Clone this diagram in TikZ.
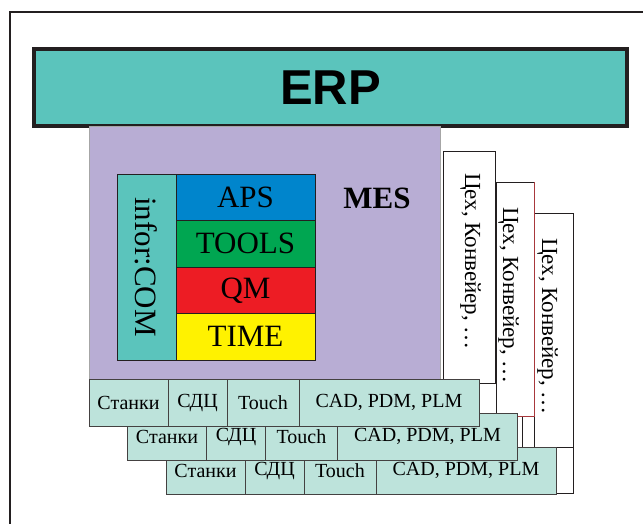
\documentclass[tikz,border=0pt]{standalone}
\usepackage{fontspec}
\setmainfont{Liberation Serif}
\newfontfamily\erpfont{Liberation Sans}
\definecolor{edge}{HTML}{231F20}
\definecolor{erpteal}{HTML}{5BC4BC}
\definecolor{mespurple}{HTML}{B8ADD4}
\definecolor{rowfill}{HTML}{BDE3DB}
\definecolor{apsblue}{HTML}{0085CC}
\definecolor{toolsgreen}{HTML}{00A651}
\definecolor{qmred}{HTML}{ED1C24}
\definecolor{timeyellow}{HTML}{FFF200}
\definecolor{shopred}{HTML}{A8383C}
\begin{document}
\begin{tikzpicture}[x=1pt,y=-1pt, every node/.style={outer sep=0pt},
  module/.style={draw=edge, line width=0.9pt, inner sep=0pt,
    minimum width=139pt, minimum height=46.5pt, anchor=north west,
    font=\fontsize{31}{31}\selectfont},
  shopbox/.style={draw=edge, fill=white, line width=0.9pt, inner sep=0pt, anchor=north west},
  shoptext/.style={rotate=-90, anchor=base west, inner sep=0pt,
    font=\fontsize{23}{23}\selectfont},
  cell/.style={draw=edge!85, fill=rowfill, line width=0.9pt, inner sep=0pt,
    minimum height=47pt, anchor=north west, font=\fontsize{20}{20}\selectfont}]
\useasboundingbox (0,0) rectangle (643,523);
\clip (0,0) rectangle (643,523);

% outer frame
\draw[edge, line width=2pt] (9.5,11.5) rectangle (700,600);

% ERP bar
\node[draw=edge, line width=3.5pt, fill=erpteal, inner sep=0pt,
  minimum width=593pt, minimum height=77pt, anchor=north west,
  font=\erpfont\bfseries\fontsize{49}{49}\selectfont] (erp) at (34,49) {ERP};

% MES area
\node[draw=gray!70, line width=0.8pt, fill=mespurple, inner sep=0pt,
  minimum width=351pt, minimum height=253pt, anchor=north west] (mes) at (89,126) {};
\node[font=\bfseries\fontsize{31}{31}\selectfont, inner sep=0pt] (meslabel) at (377,198) {MES};

% infor:COM column and its modules
\node[draw=edge, line width=0.9pt, fill=erpteal, inner sep=0pt,
  minimum width=59pt, minimum height=186pt, anchor=north west] (infor) at (117,174) {};
\node[rotate=-90, inner sep=0pt, font=\fontsize{31}{31}\selectfont] (inforlabel)
  at (infor.center) {infor:COM};
\node[module, fill=apsblue] (aps) at (176,174) {APS};
\node[module, fill=toolsgreen, at=(aps.south west)] (tools) {TOOLS};
\node[module, fill=qmred, at=(tools.south west)] (qm) {QM};
\node[module, fill=timeyellow, at=(qm.south west)] (time) {TIME};

% shop floor columns
\node[shopbox, minimum width=51pt, minimum height=113pt] (back) at (522,380) {};
\node[shopbox, minimum width=39pt, minimum height=234pt] (shop3) at (534,213) {};
\node[shopbox, minimum width=38pt, minimum height=234pt] (shop2) at (496,182) {};
\draw[shopred, line width=0.9pt] (shop2.north east) -- (shop2.south east) -- (shop2.south west);
\node[shopbox, minimum width=52pt, minimum height=232pt] (shop1) at (443,151) {};
\node[shoptext] (shop1label) at (465,173) {Цех, Конвейер, …};
\node[shoptext] (shop2label) at (503,207) {Цех, Конвейер, …};
\node[shoptext] (shop3label) at (542,238) {Цех, Конвейер, …};

% equipment rows, back to front
\foreach \r/\x/\y in {3/166/447, 2/127.5/413, 1/89/379}{
  \node[cell, minimum width=79pt] (st\r) at (\x,\y) {Станки};
  \node[cell, minimum width=59pt, at=(st\r.north east)] (sd\r) {СДЦ};
  \node[cell, minimum width=72pt, at=(sd\r.north east)] (to\r) {Touch};
  \node[cell, minimum width=180pt, at=(to\r.north east)] (cad\r) {CAD, PDM, PLM};
}
\end{tikzpicture}
\end{document}
